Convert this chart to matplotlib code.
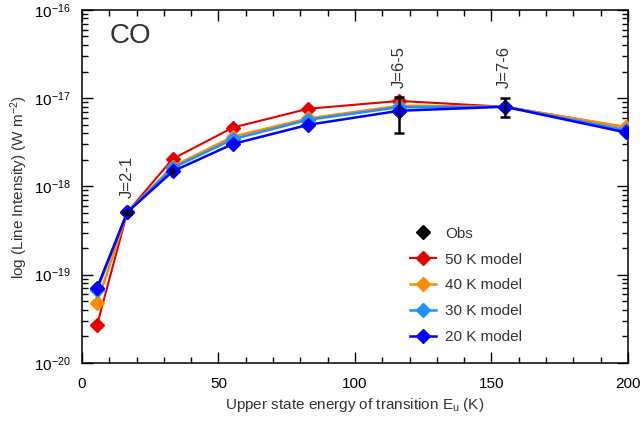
#!/usr/bin/env python3
"""CO rotational ladder: observed line intensities vs. LTE slab models."""

import matplotlib
matplotlib.use('Agg')
import matplotlib.pyplot as plt
from matplotlib.ticker import MultipleLocator, LogLocator, FixedLocator

plt.rcParams['font.family'] = ['Liberation Sans', 'DejaVu Sans']
plt.rcParams['mathtext.fontset'] = 'custom'
plt.rcParams['mathtext.rm'] = 'Liberation Sans'
plt.rcParams['mathtext.it'] = 'Liberation Sans:italic'

# upper state energies of CO J=1..8 (K)
energy = [5.53, 16.60, 33.19, 55.32, 82.97, 116.16, 154.87, 199.11]

# model line intensities (W m^-2)
model_50k = [2.7e-20, 5.1e-19, 2.05e-18, 4.65e-18, 7.6e-18, 9.3e-18, 8.0e-18, 4.7e-18]
model_40k = [4.8e-20, 5.1e-19, 1.68e-18, 3.67e-18, 5.9e-18, 8.2e-18, 8.0e-18, 4.7e-18]
model_30k = [6.7e-20, 5.1e-19, 1.62e-18, 3.43e-18, 5.7e-18, 7.9e-18, 8.0e-18, 4.35e-18]
model_20k = [7.1e-20, 5.1e-19, 1.48e-18, 3.03e-18, 5.0e-18, 7.2e-18, 8.0e-18, 4.1e-18]

# observations
obs_energy = [16.60, 116.16, 154.87]
obs_value = [5.1e-19, 7.2e-18, 8.0e-18]
obs_low = [4.9e-19, 4.0e-18, 6.1e-18]
obs_high = [5.3e-19, 1.03e-17, 1.0e-17]
obs_labels = ['J=2-1', 'J=6-5', 'J=7-6']
label_y = [7.4e-19, 1.32e-17, 1.32e-17]

# upper limit (J=3-2)
lim_energy = 33.19
lim_value = 1.6e-18
lim_end = 1.28e-18

y_ticks = [1e-20, 1e-19, 1e-18, 1e-17, 1e-16]

models = [
    (model_50k, '50 K model', '#e60000', 1.5),
    (model_40k, '40 K model', '#ff8c00', 1.8),
    (model_30k, '30 K model', '#1e90ff', 1.8),
    (model_20k, '20 K model', '#0000ff', 1.8),
]

fig = plt.figure(figsize=(6.44, 4.26), dpi=100)
ax = fig.add_axes([0.1273, 0.148, 0.8478, 0.8287])

ax.plot(obs_energy, obs_value, linestyle='none', marker='D', color='black',
        markersize=7, label='Obs', zorder=2)

for values, name, color, lw in models:
    ax.plot(energy, values, color=color, linewidth=lw, marker='D',
            markersize=7, label=name, zorder=3)

yerr = [[v - lo for v, lo in zip(obs_value, obs_low)],
        [hi - v for v, hi in zip(obs_value, obs_high)]]
ax.errorbar(obs_energy, obs_value, yerr=yerr, fmt='none', ecolor='black',
            elinewidth=1.8, capsize=3.5, capthick=1.8, zorder=5)

ax.annotate('', xy=(lim_energy, lim_end), xytext=(lim_energy, lim_value),
            arrowprops=dict(arrowstyle='-|>', color='black', lw=1.2,
                            mutation_scale=8, shrinkA=0, shrinkB=0),
            zorder=6)

for x, y, txt in zip(obs_energy, label_y, obs_labels):
    ax.text(x, y, txt, rotation=90, ha='center', va='bottom', fontsize=12,
            color='#333333')

ax.text(0.051, 0.963, 'CO', transform=ax.transAxes, fontsize=20,
        color='#333333', va='top', ha='left')

ax.set_yscale('log')
ax.set_xlim(0, 200)
ax.set_ylim(1e-20, 1e-16)
ax.xaxis.set_major_locator(FixedLocator([0, 50, 100, 150, 200]))
ax.xaxis.set_minor_locator(MultipleLocator(10))
ax.yaxis.set_major_locator(FixedLocator(y_ticks))
ax.yaxis.set_minor_locator(LogLocator(base=10, subs=range(2, 10), numticks=10))

ax.tick_params(which='both', direction='in', top=True, right=True,
               labelsize=11, colors='black', width=1.0)
ax.tick_params(which='major', length=8, pad=8)
ax.tick_params(which='minor', length=4)
ax.tick_params(axis='x', which='major', pad=10)
for sp in ax.spines.values():
    sp.set_linewidth(1.1)

ax.set_xlabel('Upper state energy of transition E$_\\mathrm{u}$ (K)',
              fontsize=11, color='#333333')
ax.set_ylabel('log (Line Intensity) (W m$^{-2}$)', fontsize=11,
              color='#333333', labelpad=3)

leg = ax.legend(loc='upper left', bbox_to_anchor=(0.575, 0.425),
                frameon=False, fontsize=11, handlelength=1.7,
                labelspacing=0.78, handletextpad=0.6)
for t in leg.get_texts():
    t.set_color('#333333')

fig.savefig('out.png', dpi=100)
